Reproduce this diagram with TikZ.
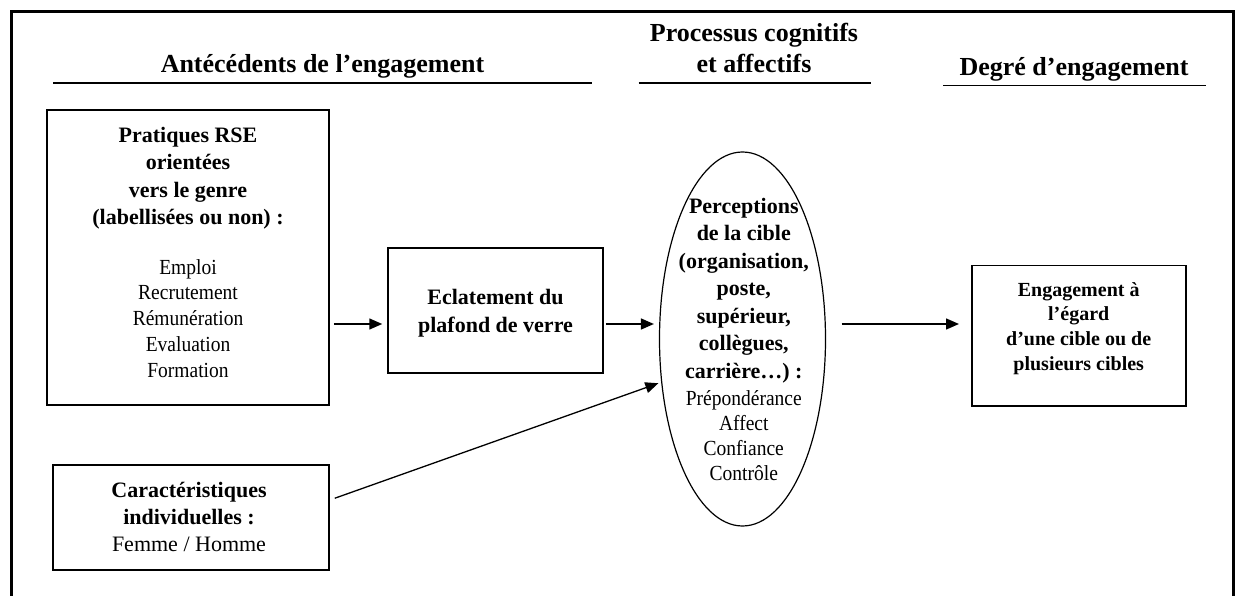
\documentclass[tikz,border=0pt]{standalone}
\usepackage{fontspec}
\setmainfont{Liberation Serif}
\newfontfamily\condfont[FakeStretch=0.907]{Liberation Serif}
\usetikzlibrary{arrows.meta,shapes.geometric}
\newcommand{\strutB}{\rule{0pt}{17pt}}
\newcommand{\strutR}{\rule{0pt}{16pt}}
\newcommand{\strutE}{\rule{0pt}{16pt}}
\newcommand{\strutH}{\rule{0pt}{20pt}}
\begin{document}
\begin{tikzpicture}[x=1pt,y=-1pt,
  outerframe/.style={line width=3pt},
  hrule/.style={line width=1.8pt},
  box/.style={draw, line width=1.5pt, inner sep=0pt},
  hd/.style={font=\fontsize{26}{31}\selectfont\bfseries, inner sep=0pt, align=center},
  bt/.style={font=\fontsize{22}{27.6}\selectfont\bfseries, inner sep=0pt, align=center, anchor=north},
  rt/.style={font=\condfont\fontsize{21.5}{25.7}\selectfont, inner sep=0pt, align=center, anchor=north},
  arr/.style={line width=1.5pt, -{Triangle[length=13pt,width=11pt]}},
]
\useasboundingbox (0,0) rectangle (1235,596);
\fill[white] (0,0) rectangle (1235,596);

% outer frame (open at the bottom)
\draw[outerframe] (11,596) -- (11,12) -- (1233,12) -- (1233,596);

% headers
\node[hd, anchor=base] (h1) at (322.5,72.5) {Antécédents de l’engagement};
\node[hd, anchor=north] (h2) at (754,21) {\strutH Processus cognitifs\\et affectifs};
\node[hd, anchor=base] (h3) at (1074,75.5) {Degré d’engagement};
\draw[hrule] (53,83) -- (592,83);
\draw[hrule] (638.5,83) -- (871.4,83);
\draw[hrule] (943,85.5) -- (1206,85.5);

% Pratiques RSE
\node[box, minimum width=282pt, minimum height=295pt] (prat) at (188,257.5) {};
\node[bt] (pratB) at (188,125) {\strutB Pratiques RSE\\orientées\\vers le genre\\(labellisées ou non) :};
\node[rt] (pratR) at (188,258) {\strutR Emploi\\Recrutement\\Rémunération\\Evaluation\\Formation};

% Eclatement
\node[box, minimum width=215pt, minimum height=125pt] (ecl) at (495.5,310.5) {};
\node[bt] (eclT) at (495.5,287.6) {\strutB Eclatement du\\plafond de verre};

% Caracteristiques
\node[box, minimum width=276pt, minimum height=105pt] (carac) at (191,517.5) {};
\node[bt, font=\fontsize{22}{27}\selectfont\bfseries] (caracB) at (189,480) {\strutB Caractéristiques\\individuelles :};
\node[inner sep=0pt, anchor=base, font=\fontsize{22}{26}\selectfont] (caracR) at (189,551) {Femme / Homme};

% Ellipse
\node[ellipse, draw, line width=1.2pt, inner sep=0pt, minimum width=166pt, minimum height=374pt] (ell) at (742.5,339) {};
\node[bt, font=\fontsize{22}{27.5}\selectfont\bfseries] (ellB) at (743.8,196) {\strutB Perceptions\\de la cible\\(organisation,\\poste,\\supérieur,\\collègues,\\carrière…) :};
\node[rt, font=\condfont\fontsize{21.5}{25}\selectfont] (ellR) at (743.8,389) {\strutR Prépondérance\\Affect\\Confiance\\Contrôle};

% Engagement
\node[box, minimum width=214pt, minimum height=140.3pt] (eng) at (1078.75,335.85) {};
\node[bt, font=\fontsize{20}{24.7}\selectfont\bfseries] (engT) at (1078.7,280) {\strutE Engagement à\\l’égard\\d’une cible ou de\\plusieurs cibles};

% connectors
\coordinate (lvl) at (0,324);
\draw[arr, shorten <=4pt, shorten >=5pt] (prat.east |- lvl) -- (ecl.west |- lvl);
\draw[arr, shorten <=2pt, shorten >=5pt] (ecl.east |- lvl) -- (ell.west |- lvl);
\draw[arr, line width=1.3pt, shorten >=3pt] ([shift={(5,34)}]carac.north east) -- (ell.208);
\draw[arr, shorten <=15.5pt, shorten >=12pt] (ell.east |- lvl) -- (eng.west |- lvl);
\end{tikzpicture}
\end{document}
